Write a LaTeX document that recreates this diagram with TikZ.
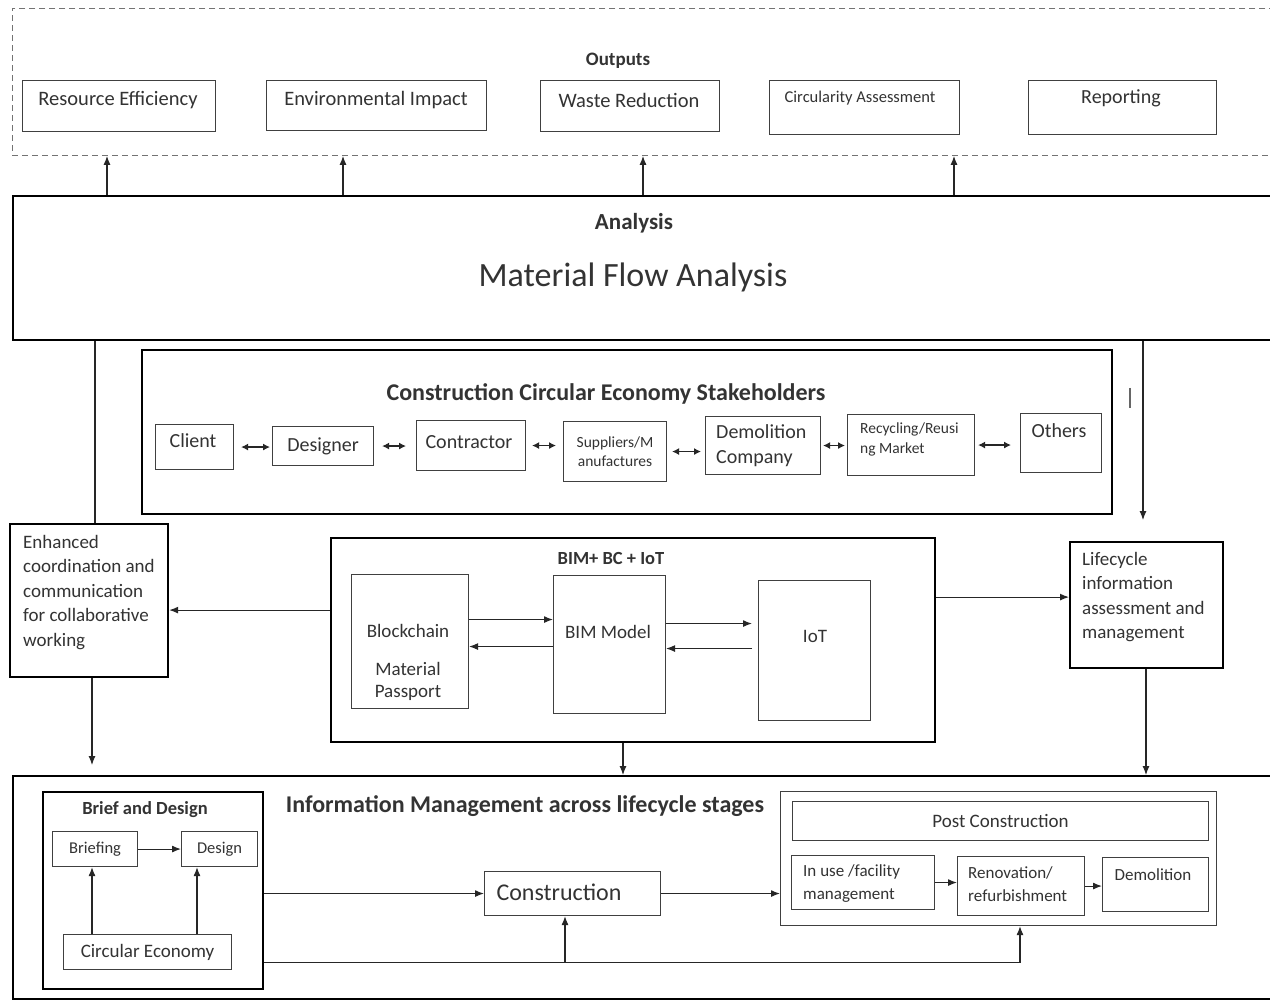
\documentclass[tikz,border=0pt]{standalone}
\usepackage{fontspec}
\setmainfont{Carlito}
\usetikzlibrary{arrows.meta}
\newcommand\B[7]{\node[#6, minimum width={(#4-#2)*1pt}, minimum height={(#5-#3)*1pt}] (#1) at (#2,#3) {#7};}
\newcommand\fs[1]{\fontsize{#1}{#1}\selectfont}
\begin{document}
\begin{tikzpicture}[x=1pt,y=-1pt,
 bx/.style={draw=black!75, line width=1.1pt, inner sep=0pt, anchor=north west, text=black!80, align=center},
 tbx/.style={bx, draw=black, line width=2.2pt},
 arr/.style={-{Latex[length=9pt,width=7pt]}, line width=1.1pt, black!85},
 darr/.style={{Latex[length=7pt,width=7pt]}-{Latex[length=7pt,width=7pt]}, line width=1.2pt, black!85},
 txt/.style={text=black!80, inner sep=0pt},
 ltxt/.style={txt, anchor=north west, align=left},
]
\useasboundingbox (0,0) rectangle (1270,1000);
\fill[white] (0,0) rectangle (1270,1000);
% x positions
\foreach \n/\v in {c107/107,c343/343,c643/643,c954/954,c95/95,c1143/1143,c92/92,c623/623,c1146/1146,c197/197,c565/565,c1020/1020}{\coordinate (\n) at (\v,0);}

% Outputs
\B{outbox}{12}{8}{1290}{155}{bx, dash pattern=on 6pt off 4pt, draw=black!55, line width=0.9pt}{}
\node[txt, font=\fs{19}\bfseries] (outt) at (618,61) {Outputs};
\B{re}{22}{80}{215}{131}{bx}{}
\node[txt, font=\fs{20.5}] (ret) at (118,100) {Resource Efficiency};
\B{ei}{266}{80}{486}{130}{bx}{}
\node[txt, font=\fs{20.5}] (eit) at (376,100) {Environmental Impact};
\B{wr}{540}{80}{719}{131}{bx}{}
\node[txt, font=\fs{20.5}] (wrt) at (629,100) {Waste Reduction};
\B{ca}{769}{80}{959}{134}{bx}{}
\node[txt, font=\fs{16.5}] (cat) at (860,98) {Circularity Assessment};
\B{rp}{1028}{80}{1216}{134}{bx}{}
\node[txt, font=\fs{20}] (rpt) at (1121,98) {Reporting};

% Analysis
\B{an}{12}{195}{1290}{339}{tbx}{}
\node[txt, font=\fs{23}\bfseries] (ant) at (634,223) {Analysis};
\node[txt, font=\fs{34}] (mfa) at (633,277) {Material Flow Analysis};
\foreach \c in {c107,c343,c643,c954}{\draw[arr] (an.north -| \c) -- (outbox.south -| \c);}

% Stakeholders
\B{sh}{141}{349}{1111}{513}{tbx}{}
\node[txt, font=\fs{24}\bfseries] (sht) at (606,394) {Construction Circular Economy Stakeholders};
\B{cl}{155}{424}{233}{469}{bx}{}
\node[txt, font=\fs{20}] (clt) at (193,441) {Client};
\B{ds}{272}{426}{373}{465}{bx, font=\fs{20}}{Designer}
\B{ct}{416}{420}{525}{470}{bx}{}
\node[txt, font=\fs{20}] (ctt) at (469,442) {Contractor};
\B{sp}{563}{421}{666}{481}{bx, font=\fs{15.5}}{Suppliers/M\\[3pt]anufactures}
\B{dc}{705}{416}{820}{474}{bx}{}
\node[ltxt, font=\fontsize{20}{25}\selectfont] (dct) at (716,424) {Demolition\\Company};
\B{rm}{847}{414}{974}{475}{bx}{}
\node[ltxt, font=\fontsize{15.5}{19.5}\selectfont] (rmt) at (860,423) {Recycling/Reusi\\ng Market};
\B{ot}{1020}{413}{1101}{472}{bx}{}
\node[txt, font=\fs{20}] (ott) at (1059,431) {Others};
\draw[darr, shorten <=7pt, shorten >=2pt] (cl.east) -- (cl.east -| ds.west);
\draw[darr, shorten <=8pt, shorten >=10pt] (ds.east) -- (ds.east -| ct.west);
\draw[darr, shorten <=6pt, shorten >=7pt] (ct.east) -- (ct.east -| sp.west);
\draw[darr, shorten <=5pt, shorten >=4pt] (sp.east) -- (sp.east -| dc.west);
\draw[darr, shorten <=2pt, shorten >=2pt] (dc.east) -- (dc.east -| rm.west);
\draw[darr, shorten <=3pt, shorten >=9pt] (rm.east) -- (rm.east -| ot.west);

% Enhanced
\B{en}{9}{523}{167}{676}{tbx}{}
\node[ltxt, font=\fontsize{19}{24.5}\selectfont] (ent) at (23,535) {Enhanced\\coordination and\\communication\\for collaborative\\working};
\coordinate (enend) at (92,765);
\draw[arr] (en.south -| c92) -- (enend);

% side lines
\draw[line width=1.1pt, black!85] (an.south -| c95) -- (en.north -| c95);
\coordinate (lcend) at (1143,520);
\draw[arr] (an.south -| c1143) -- (lcend);
\draw[black!60, line width=1.1pt] (1130,388) -- (1130,408);

% BIM
\B{bim}{330}{537}{934}{741}{tbx}{}
\node[txt, font=\fs{18.5}\bfseries] (bimt) at (611,559) {BIM+ BC + IoT};
\B{bc}{351}{574}{468}{708}{bx}{}
\node[txt, font=\fs{19}] (bct1) at (408,631) {Blockchain};
\node[txt, font=\fs{19}] (bct2) at (408,669) {Material};
\node[txt, font=\fs{19}] (bct3) at (408,693) {Passport};
\B{bm}{553}{575}{665}{713}{bx}{}
\node[txt, font=\fs{19}] (bmt) at (608,632) {BIM Model};
\B{iot}{758}{580}{870}{720}{bx}{}
\node[txt, font=\fs{19}] (iott) at (815,636) {IoT};
\draw[arr] ([yshift=22pt]bc.east) -- ([yshift=22pt]bc.east -| bm.west);
\draw[arr] ([yshift=-2pt]bm.west) -- ([yshift=-2pt]bm.west -| bc.east);
\draw[arr, shorten >=6pt] ([yshift=21pt]bm.east) -- ([yshift=21pt]bm.east -| iot.west);
\draw[arr, shorten <=6pt] ([yshift=2pt]iot.west) -- ([yshift=2pt]iot.west -| bm.east);
\draw[arr] ([yshift=30pt]bim.west) -- ([yshift=30pt]bim.west -| en.east);

% Lifecycle
\B{lc}{1069}{541}{1222}{667}{tbx}{}
\node[ltxt, font=\fontsize{19}{24.5}\selectfont] (lct) at (1082,552) {Lifecycle\\information\\assessment and\\management};
\draw[arr] ([yshift=43pt]bim.east) -- ([yshift=43pt]bim.east -| lc.west);

% Information management
\B{im}{12}{775}{1290}{998}{tbx}{}
\node[txt, font=\fs{24}\bfseries] (imt) at (525,806) {Information Management across lifecycle stages};
\draw[arr] (bim.south -| c623) -- (im.north -| c623);
\draw[arr] (lc.south -| c1146) -- (im.north -| c1146);

\B{bd}{42}{791}{262}{988}{tbx}{}
\node[txt, font=\fs{18.5}\bfseries] (bdt) at (145,810) {Brief and Design};
\B{br}{52}{831}{137}{866}{bx, font=\fs{16.5}}{Briefing}
\B{dz}{181}{831}{257}{866}{bx, font=\fs{16.5}}{Design}
\draw[arr] (br.east) -- (br.east -| dz.west);
\B{ce}{63}{934}{231}{969}{bx, font=\fs{19}}{Circular Economy}
\draw[arr] (ce.north -| c92) -- (br.south -| c92);
\draw[arr] (ce.north -| c197) -- (dz.south -| c197);

\B{co}{484}{871}{660}{915}{bx}{}
\node[txt, font=\fs{24}] (cot) at (559,892) {Construction};
\draw[arr] (bd.east |- co.west) -- (co.west);

\B{pc}{780}{791}{1216}{925}{bx}{}
\draw[arr] (co.east) -- (co.east -| pc.west);
\coordinate (bl) at ([yshift=-71.5pt]bd.east);
\draw[arr] (bl) -| (pc.south -| c1020);
\draw[arr] (bl -| c565) -- (co.south -| c565);

\B{pch}{792}{801}{1208}{840}{bx, font=\fs{19}}{Post Construction}
\B{iu}{791}{855}{934}{909}{bx}{}
\node[ltxt, font=\fontsize{17}{23}\selectfont] (iut) at (803,864) {In use /facility\\management};
\B{rn}{957}{856}{1084}{915}{bx}{}
\node[ltxt, font=\fontsize{17}{23}\selectfont] (rnt) at (968,866) {Renovation/\\refurbishment};
\B{dm}{1102}{857}{1208}{911}{bx}{}
\node[txt, font=\fs{17}] (dmt) at (1153,875) {Demolition};
\draw[arr] (iu.east) -- (iu.east -| rn.west);
\draw[arr] (rn.east) -- (rn.east -| dm.west);
\end{tikzpicture}
\end{document}
